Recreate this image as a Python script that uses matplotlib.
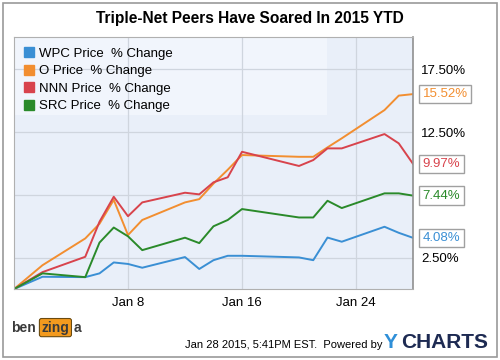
import matplotlib
matplotlib.use("Agg")
import matplotlib.pyplot as plt
import matplotlib.dates as mdates
from matplotlib.patches import Rectangle
from matplotlib.lines import Line2D
import pandas as pd

plt.rcParams['font.family'] = ['Liberation Sans', 'DejaVu Sans']

dates = pd.to_datetime([
    "2014-12-31", "2015-01-02", "2015-01-05", "2015-01-06", "2015-01-07",
    "2015-01-08", "2015-01-09", "2015-01-12", "2015-01-13", "2015-01-14",
    "2015-01-15", "2015-01-16", "2015-01-20", "2015-01-21", "2015-01-22",
    "2015-01-23", "2015-01-26", "2015-01-27", "2015-01-28"])

wpc = [0, 0.98, 0.95, 1.25, 2.12, 2.0, 1.7, 2.55, 1.6, 2.3, 2.65, 2.65,
       2.52, 2.3, 4.1, 3.77, 4.96, 4.48, 4.08]
o = [0, 1.9, 4.03, 5.2, 7.1, 4.3, 5.5, 6.9, 7.16, 8.4, 9.5, 10.67,
     10.53, 10.53, 11.28, 12.0, 14.25, 15.4, 15.52]
nnn = [0, 1.35, 2.57, 5.36, 7.35, 5.8, 6.9, 7.67, 7.54, 8.5, 8.9, 10.93,
       9.8, 10.27, 11.2, 11.2, 12.34, 11.6, 9.97]
src = [0, 1.25, 0.95, 3.7, 4.9, 4.2, 3.1, 4.09, 3.66, 5.0, 5.5, 6.37,
       5.7, 5.7, 7.03, 6.45, 7.62, 7.62, 7.44]

names = ["WPC Price  % Change", "O Price  % Change",
         "NNN Price  % Change", "SRC Price  % Change"]
colors = ["#3a8fd4", "#f28e30", "#d8434c", "#2a8a2a"]
series = [wpc, o, nnn, src]
yticks = [2.5, 7.5, 12.5, 17.5]
xticks = pd.to_datetime(["2015-01-08", "2015-01-16", "2015-01-24"])

fig = plt.figure(figsize=(5, 3.6), dpi=100)
fig.patches.append(Rectangle((0.006, 0.008), 0.988, 0.984, transform=fig.transFigure,
                             fill=False, ec="#9a9a9a", lw=1.2))

ax = fig.add_axes([0.028, 0.197, 0.798, 0.7])
ax.set_facecolor("#e9eff9")
# lighter panel behind the legend
ax.add_patch(Rectangle((0, 0.69), 0.785, 0.31, transform=ax.transAxes,
                       fc="#f1f5fc", ec="none", zorder=0))
for y, c, s in zip(series, colors, names):
    ax.plot(dates, y, color=c, lw=1.4, label=s)

ax.set_xlim(dates[0], dates[-1])
ax.set_ylim(0, 20.06)
ax.yaxis.tick_right()
ax.set_yticks(yticks)
ax.set_yticklabels(["%.2f%%" % t for t in yticks], fontsize=9.5)
ax.set_xticks(xticks)
ax.xaxis.set_major_formatter(mdates.DateFormatter("%b %-d"))
ax.tick_params(length=0, pad=6, labelsize=9.5)
ax.grid(color="#cfd5de", lw=0.9)
ax.set_axisbelow(True)
for sp in ax.spines.values():
    sp.set_color("#b0b0b0")
ax.spines["right"].set_color("#909090")
ax.spines["right"].set_linewidth(1.2)

# end-value tags
for y, c in zip(series, colors):
    ax.annotate("%.2f%%" % y[-1], xy=(dates[-1], y[-1]), xytext=(7, 0),
                textcoords="offset points", va="center", ha="left",
                color=c, fontsize=9.5, annotation_clip=False,
                bbox=dict(boxstyle="square,pad=0.25", fc="white", ec="#a0a0a0", lw=1))

handles = [Line2D([], [], ls="none", marker="s", markersize=6.5, color=c) for c in colors]
leg = ax.legend(handles, names, loc="upper left", frameon=False, fontsize=9.5,
                handlelength=0.7, handletextpad=0.4, labelspacing=0.4,
                borderaxespad=0.0, borderpad=0.8)

fig.text(0.5, 0.948, "Triple-Net Peers Have Soared In 2015 YTD", ha="center",
         va="center", fontsize=11.2, fontweight="bold")

# footer
fig.text(0.37, 0.042, "Jan 28 2015, 5:41PM EST.  Powered by", ha="left",
         va="center", fontsize=8)
fig.text(0.768, 0.048, "Y", ha="left", va="center", fontsize=15,
         fontweight="bold", color="#2f8fd8")
fig.text(0.803, 0.048, "CHARTS", ha="left", va="center", fontsize=15,
         fontweight="bold", color="#1d2a52")
fig.text(0.022, 0.09, "ben", ha="left", va="center", fontsize=10,
         fontweight="bold", color="#3a3a3a")
fig.text(0.083, 0.09, "zing", ha="left", va="center", fontsize=10,
         fontweight="bold", color="#3a3a3a",
         bbox=dict(boxstyle="round,pad=0.15", fc="#f39a1e", ec="#6a4a10", lw=0.8))
fig.text(0.148, 0.09, "a", ha="left", va="center", fontsize=10,
         fontweight="bold", color="#3a3a3a")

fig.savefig("out.png", dpi=100)
